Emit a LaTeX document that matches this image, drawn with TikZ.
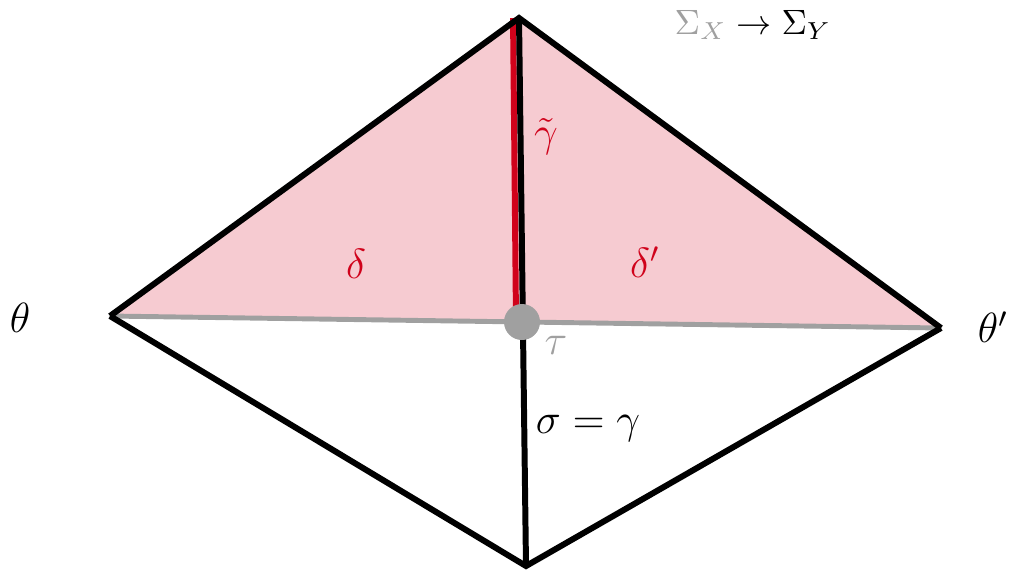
\documentclass[tikz,border=0pt]{standalone}
\usepackage{tikz}
\definecolor{rosa}{RGB}{246,203,209}
\definecolor{rojo}{RGB}{208,2,27}
\definecolor{gris}{RGB}{160,160,160}
\begin{document}
\begin{tikzpicture}[x=0.01cm,y=-0.01cm,
    arista/.style={line width=1.7pt,line join=miter},
    etiqueta/.style={font=\large,inner sep=0pt}]
        % Caja
        \useasboundingbox (0,0) rectangle (1010,572);
        % Vertices
        \coordinate (apex) at (519,18);
        \coordinate (izq) at (110,316);
        \coordinate (der) at (941,328);
        \coordinate (medio) at (522,322);
        \coordinate (abajo) at (526,566);
        % Triangulo superior
        \fill[rosa] (apex) -- (izq) -- (der) -- cycle;
        % Linea horizontal
        \draw[gris,line width=1.4pt] (izq) -- (der);
        % Linea roja
        \draw[rojo,line width=1.7pt] ([xshift=-1.7pt]apex) -- ([xshift=-1.7pt]medio);
        % Aristas
        \draw[arista] (izq) -- (apex) -- (der);
        \draw[arista] (izq) -- (abajo) -- (der);
        \draw[arista] (apex) -- (abajo);
        \fill[gris] (medio) circle (18);
        % Etiquetas
        \node[etiqueta] (theta) at (20,318) {$\theta$};
        \node[etiqueta] (thetap) at (993,327) {$\theta'$};
        \node[etiqueta,font=\normalsize] (sigmas) at (753,25) {$\textcolor{gris}{\Sigma_X}\rightarrow\Sigma_Y$};
        \node[etiqueta,rojo] (gamma) at (546,137) {$\tilde{\gamma}$};
        \node[etiqueta,rojo] (delta) at (356,264) {$\delta$};
        \node[etiqueta,rojo] (deltap) at (645,262) {$\delta'$};
        \node[etiqueta,gris] (tau) at (556,345) {$\tau$};
        \node[etiqueta] (sigma) at (588,428) {$\sigma=\gamma$};
\end{tikzpicture}
\end{document}
